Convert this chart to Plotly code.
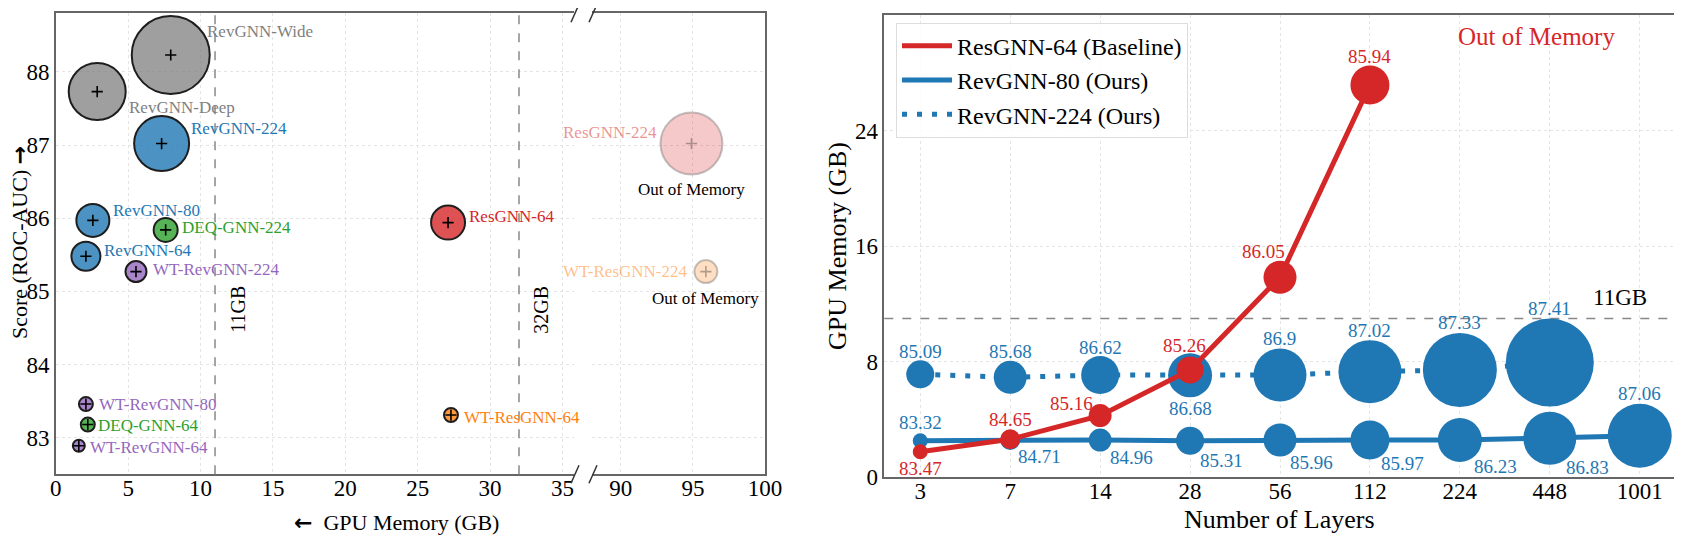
import plotly.graph_objects as go

# the page body keeps its default 8px margin, so the figure is drawn 8px in
PAGE_W, PAGE_H, BODY = 1682, 540, 8
W, H = PAGE_W - BODY, PAGE_H - BODY
FONT = "Liberation Serif"
ARROW = '<span style="font-family:DejaVu Sans;font-weight:bold">{}</span>'

# ── left panel: score vs GPU memory (bubble = model size) ──
left_models = ["RevGNN-Wide", "RevGNN-Deep", "RevGNN-224", "RevGNN-80", "DEQ-GNN-224",
               "RevGNN-64", "WT-RevGNN-224", "WT-RevGNN-80", "DEQ-GNN-64", "WT-RevGNN-64",
               "ResGNN-64", "WT-ResGNN-64", "ResGNN-224", "WT-ResGNN-224"]
left_mem = [7.94, 2.86, 7.31, 2.56, 7.59, 2.08, 5.54, 2.08, 2.21, 1.59, 27.1, 27.3, 94.9, 95.9]
left_score = [88.23, 87.73, 87.02, 85.97, 85.84, 85.48, 85.27, 83.46, 83.18, 82.89,
              85.94, 83.31, 87.02, 85.27]
left_size = [78, 57, 55, 33, 24, 29, 21, 14, 14, 12, 34, 14, 62, 23]
oom_models = ["ResGNN-224", "WT-ResGNN-224"]

# ── right panel: memory vs depth ──
layers = ["3", "7", "14", "28", "56", "112", "224", "448", "1001"]
res64_mem = [1.77, 2.63, 4.27, 7.43, 13.85, 27.16]
res64_score = [83.47, 84.65, 85.16, 85.26, 86.05, 85.94]
res64_size = [15, 20, 23, 27, 33, 39]
rev80_mem = [2.53, 2.58, 2.58, 2.53, 2.58, 2.58, 2.58, 2.70, 2.88]
rev80_score = [83.32, 84.71, 84.96, 85.31, 85.96, 85.97, 86.23, 86.83, 87.06]
rev80_size = [15, 20, 23, 28, 33, 39, 44, 53, 64]
rev224_mem = [7.13, 6.92, 7.08, 7.06, 7.08, 7.31, 7.43, 7.94]
rev224_score = [85.09, 85.68, 86.62, 86.68, 86.9, 87.02, 87.33, 87.41]
rev224_size = [28, 33, 38, 44, 53, 63, 74, 88]

BLUE, RED = "#1f77b4", "#d62728"

# fill, edge, text colour per model
STYLE = {
    "RevGNN-Wide": ("rgba(127,127,127,0.75)", "#1e1e1e", "#7f7f7f"),
    "RevGNN-Deep": ("rgba(127,127,127,0.75)", "#1e1e1e", "#7f7f7f"),
    "RevGNN-224": ("rgba(31,119,180,0.8)", "#1e1e1e", BLUE),
    "RevGNN-80": ("rgba(31,119,180,0.8)", "#1e1e1e", BLUE),
    "RevGNN-64": ("rgba(31,119,180,0.8)", "#1e1e1e", BLUE),
    "DEQ-GNN-224": ("rgba(44,160,44,0.8)", "#1e1e1e", "#2ca02c"),
    "DEQ-GNN-64": ("rgba(44,160,44,0.8)", "#1e1e1e", "#2ca02c"),
    "WT-RevGNN-224": ("rgba(148,103,189,0.8)", "#1e1e1e", "#9467bd"),
    "WT-RevGNN-80": ("rgba(148,103,189,0.8)", "#1e1e1e", "#9467bd"),
    "WT-RevGNN-64": ("rgba(148,103,189,0.8)", "#1e1e1e", "#9467bd"),
    "ResGNN-64": ("rgba(214,39,40,0.8)", "#1e1e1e", RED),
    "WT-ResGNN-64": ("rgba(255,127,14,0.8)", "#1e1e1e", "#ff7f0e"),
    "ResGNN-224": ("rgba(214,39,40,0.25)", "rgba(90,90,90,0.35)", "rgba(214,39,40,0.5)"),
    "WT-ResGNN-224": ("rgba(255,127,14,0.25)", "rgba(90,90,90,0.35)", "rgba(255,127,14,0.5)"),
}

# label offsets in px (dx, dy-up, anchor)
LABEL_POS = {
    "RevGNN-Wide": (34, 24, "left"), "RevGNN-Deep": (30, -16, "left"),
    "RevGNN-224": (27, 15, "left"), "RevGNN-80": (18, 10, "left"),
    "DEQ-GNN-224": (14, 2, "left"), "RevGNN-64": (16, 6, "left"),
    "WT-RevGNN-224": (15, 2, "left"), "WT-RevGNN-80": (11, 0, "left"),
    "DEQ-GNN-64": (8, -1, "left"), "WT-RevGNN-64": (9, -2, "left"),
    "ResGNN-64": (19, 6, "left"), "WT-ResGNN-64": (11, -2, "left"),
    "ResGNN-224": (-32, 11, "right"), "WT-ResGNN-224": (-16, 0, "right"),
}


def px_x(p):
    return (p - BODY) / W


def px_y(p):
    return 1 - (p - BODY) / H


def label(**kw):
    base = dict(showarrow=False, xanchor="center", yanchor="middle")
    base.update(kw)
    return base


fig = go.Figure()
annotations = []

# left bubbles, split over the two broken-axis panels
for axis_x, axis_y, keep in [("x", "y", lambda m: m < 50), ("x2", "y2", lambda m: m >= 50)]:
    idx = [i for i, m in enumerate(left_mem) if keep(m)]
    names = [left_models[i] for i in idx]
    fig.add_trace(go.Scatter(
        x=[left_mem[i] for i in idx], y=[left_score[i] for i in idx],
        xaxis=axis_x, yaxis=axis_y, mode="markers", showlegend=False,
        marker=dict(size=[left_size[i] for i in idx], opacity=1,
                    color=[STYLE[n][0] for n in names],
                    line=dict(color=[STYLE[n][1] for n in names], width=2)),
    ))
    fig.add_trace(go.Scatter(
        x=[left_mem[i] for i in idx], y=[left_score[i] for i in idx],
        xaxis=axis_x, yaxis=axis_y, mode="markers", showlegend=False,
        marker=dict(symbol="cross-thin", size=8, opacity=1,
                    line=dict(width=1.6, color=["rgba(0,0,0,0.3)" if n in oom_models else "black"
                                                for n in names])),
    ))
    for i in idx:
        n = left_models[i]
        dx, dy, anchor = LABEL_POS[n]
        annotations.append(label(
            x=left_mem[i], y=left_score[i], xref=axis_x, yref=axis_y, text=n,
            xshift=dx, yshift=dy, xanchor=anchor,
            font=dict(size=17, color=STYLE[n][2]),
        ))
        if n in oom_models:
            annotations.append(label(
                x=left_mem[i], y=left_score[i], xref=axis_x, yref=axis_y,
                text="Out of Memory", yshift=-46 if n == "ResGNN-224" else -27,
                font=dict(size=17, color="black"),
            ))

# right panel: lines first (legend), then bubbles
fig.add_trace(go.Scatter(
    x=layers[:len(rev224_mem)], y=rev224_mem, xaxis="x3", yaxis="y3", mode="lines",
    name="RevGNN-224 (Ours)", legendrank=3,
    line=dict(color=BLUE, width=5, dash="5px,10px"),
))
fig.add_trace(go.Scatter(
    x=layers[:len(rev224_mem)], y=rev224_mem, xaxis="x3", yaxis="y3", mode="markers",
    showlegend=False, marker=dict(size=rev224_size, color=BLUE, opacity=1, line=dict(width=0)),
))
fig.add_trace(go.Scatter(
    x=layers, y=rev80_mem, xaxis="x3", yaxis="y3", mode="lines",
    name="RevGNN-80 (Ours)", legendrank=2, line=dict(color=BLUE, width=5),
))
fig.add_trace(go.Scatter(
    x=layers, y=rev80_mem, xaxis="x3", yaxis="y3", mode="markers",
    showlegend=False, marker=dict(size=rev80_size, color=BLUE, opacity=1, line=dict(width=0)),
))
fig.add_trace(go.Scatter(
    x=layers[:len(res64_mem)], y=res64_mem, xaxis="x3", yaxis="y3", mode="lines",
    name="ResGNN-64 (Baseline)", legendrank=1, line=dict(color=RED, width=5),
))
fig.add_trace(go.Scatter(
    x=layers[:len(res64_mem)], y=res64_mem, xaxis="x3", yaxis="y3", mode="markers",
    showlegend=False, marker=dict(size=res64_size, color=RED, opacity=1, line=dict(width=0)),
))

# value labels on the right panel (dx, dy-up); x given as category index
res64_off = [(0, -17), (0, 20), (-29, 12), (-6, 24), (-16, 26), (0, 28)]
rev80_off = [(0, 18), (29, -16), (31, -17), (31, -20), (32, -22), (33, -23), (36, -26), (38, -29), (0, 42)]
rev224_off = [(0, 23), (0, 26), (0, 28), (0, -33), (0, 37), (0, 41), (0, 47), (0, 54)]
for mem, score, offs, col in [(res64_mem, res64_score, res64_off, RED),
                              (rev80_mem, rev80_score, rev80_off, BLUE),
                              (rev224_mem, rev224_score, rev224_off, BLUE)]:
    for k, (m, s) in enumerate(zip(mem, score)):
        annotations.append(label(
            x=k, y=m, xref="x3", yref="y3", text=f"{s:g}",
            xshift=offs[k][0], yshift=offs[k][1], font=dict(size=19, color=col),
        ))

# reference lines and their labels
shapes = [
    dict(type="line", xref="x", yref="y domain", x0=11, x1=11, y0=0, y1=1,
         line=dict(color="#888", width=1.5, dash="dash")),
    dict(type="line", xref="x", yref="y domain", x0=32, x1=32, y0=0, y1=1,
         line=dict(color="#888", width=1.5, dash="dash")),
    dict(type="line", xref="x3 domain", yref="y3", x0=0, x1=1, y0=11, y1=11,
         line=dict(color="#888", width=1.5, dash="dash"), layer="below"),
]
# axis-break marks
for bx in (575, 593):
    for by in (13.3, 474.3):
        shapes.append(dict(type="line", xref="paper", yref="paper",
                           x0=px_x(bx - 4), y0=px_y(by + 9), x1=px_x(bx + 4), y1=px_y(by - 9),
                           line=dict(color="#333", width=1.5)))

annotations += [
    label(x=11, y=84.75, xref="x", yref="y", text="11GB", textangle=-90,
          xshift=23, font=dict(size=20, color="black")),
    label(x=32, y=84.75, xref="x", yref="y", text="32GB", textangle=-90,
          xshift=22, font=dict(size=20, color="black")),
    label(x=0.93, y=11, xref="x3 domain", yref="y3", text="11GB",
          yshift=21, font=dict(size=23, color="black")),
    label(x=0.824, y=30.5, xref="x3 domain", yref="y3", text="Out of Memory",
          font=dict(size=25, color=RED)),
    # axis titles
    label(x=px_x(396), y=px_y(522), xref="paper", yref="paper",
          text=ARROW.format("←") + "  GPU Memory (GB)", font=dict(size=22, color="black")),
    label(x=px_x(20), y=px_y(243), xref="paper", yref="paper",
          text="Score (ROC-AUC) " + ARROW.format("→"),
          textangle=-90, font=dict(size=22, color="black")),
    label(x=px_x(1279), y=px_y(519), xref="paper", yref="paper", text="Number of Layers",
          font=dict(size=26, color="black")),
    label(x=px_x(837), y=px_y(246), xref="paper", yref="paper", text="GPU Memory (GB)",
          textangle=-90, font=dict(size=26, color="black")),
]

axis_common = dict(showline=True, linecolor="#666", linewidth=1.5, ticks="", automargin=False,
                   showgrid=True, gridcolor="#e4e4e4", griddash="dot", zeroline=False,
                   tickfont=dict(size=23, color="black"))
x_common = dict(axis_common, ticklabelstandoff=-8)
left_dom_y = [px_y(474.3), px_y(13.3)]

fig.update_layout(
    width=W, height=H, margin=dict(l=0, r=0, t=0, b=0, autoexpand=False),
    template="none", paper_bgcolor="white", plot_bgcolor="white",
    font=dict(family=FONT, color="black"),
    xaxis=dict(domain=[px_x(55.8), px_x(574)], range=[0, 35.8], anchor="y", mirror=True,
               tickvals=[0, 5, 10, 15, 20, 25, 30, 35], **x_common),
    yaxis=dict(domain=left_dom_y, range=[82.5, 88.8], anchor="x",
               tickvals=[83, 84, 85, 86, 87, 88], **axis_common),
    xaxis2=dict(domain=[px_x(592), px_x(765)], range=[88, 100], anchor="y2", mirror=True,
                tickvals=[90, 95, 100], **x_common),
    yaxis2=dict(domain=left_dom_y, range=[82.5, 88.8], anchor="x2", side="right",
                tickvals=[83, 84, 85, 86, 87, 88], showticklabels=False, **axis_common),
    xaxis3=dict(domain=[px_x(884.3), px_x(1675.7)], type="category", range=[-0.4, 8.4],
                categoryorder="array", categoryarray=layers, anchor="y3", mirror=True,
                **x_common),
    yaxis3=dict(domain=[px_y(477.3), px_y(15)], range=[0, 32], anchor="x3", mirror=True,
                tickvals=[0, 8, 16, 24, 32], **axis_common),
    legend=dict(x=px_x(896), y=px_y(22.7), xanchor="left", yanchor="top",
                bgcolor="rgba(255,255,255,0.85)", bordercolor="#dddddd", borderwidth=1,
                font=dict(size=24, color="black"), itemwidth=50, tracegroupgap=0),
    shapes=shapes,
    annotations=annotations,
)

fig.write_html("out.html")
